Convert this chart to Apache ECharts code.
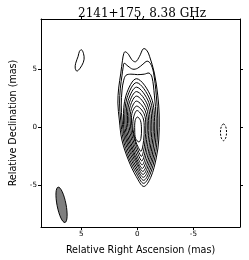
<!DOCTYPE html>
<html><head><meta charset="utf-8">
<script src="https://cdn.jsdelivr.net/npm/echarts@6/dist/echarts.min.js"></script>
<style>html,body{margin:0;padding:0;background:#fff}#c{width:249px;height:260px}</style>
</head><body><div id="c"></div>
<script>
// ---- data (mas) ----
const titleText = '2141+175, 8.38 GHz';
const xName = 'Relative Right Ascension (mas)';
const yName = 'Relative Declination (mas)';
const xTicks = [5, 0, -5];
const yTicks = [5, 0, -5];
const xRange = [-9.15, 8.58];
const yRange = [-8.61, 9.30];
// positive contours, outer to inner: [RA offset, Dec offset]
const contour1 = [[1.09,6.48],[0.79,6.27],[0.49,5.79],[0.15,5.62],[-0.20,6.09],[-0.54,6.74],[-0.84,6.61],[-1.09,6.09],[-1.52,4.64],[-1.82,2.75],[-1.95,1.03],[-1.91,-1.12],[-1.69,-2.66],[-1.20,-4.33],[-0.58,-5.12],[0.09,-4.27],[0.80,-2.83],[1.37,-1.12],[1.60,0.60],[1.73,2.06],[1.66,3.35],[1.47,4.64],[1.32,5.75],[1.21,6.31]];
const contour2 = [[1.17,5.49],[0.83,5.24],[0.40,4.98],[-0.03,5.06],[-0.50,5.41],[-0.88,5.67],[-1.18,5.45],[-1.44,4.72],[-1.69,2.75],[-1.82,0.77],[-1.78,-0.94],[-1.58,-2.52],[-1.13,-4.09],[-0.56,-4.85],[0.06,-4.03],[0.74,-2.67],[1.26,-1.03],[1.48,0.60],[1.58,2.06],[1.51,3.35],[1.36,4.46],[1.26,5.15]];
const contour3 = [[1.00,4.46],[0.57,4.55],[-0.03,4.51],[-0.62,4.55],[-1.05,4.64],[-1.31,4.29],[-1.52,2.75],[-1.68,0.77],[-1.65,-0.94],[-1.47,-2.38],[-1.06,-3.88],[-0.56,-4.59],[0.03,-3.81],[0.66,-2.52],[1.15,-0.96],[1.36,0.60],[1.43,1.89],[1.36,3.18],[1.21,4.03]];
const contour4 = [[0.06,4.16],[-1.23,2.57],[-1.55,0.17],[-1.36,-2.24],[-0.99,-3.66],[-0.54,-4.33],[0.01,-3.60],[0.59,-2.36],[1.05,-0.88],[1.24,0.60],[1.00,2.74]];
const contour5 = [[0.06,3.82],[-1.12,2.36],[-1.42,0.17],[-1.25,-2.10],[-0.92,-3.44],[-0.51,-4.08],[-0.02,-3.37],[0.52,-2.21],[0.95,-0.81],[1.12,0.60],[0.91,2.53]];
const contour6 = [[0.06,3.43],[-1.02,2.13],[-1.29,0.17],[-1.14,-1.97],[-0.85,-3.22],[-0.49,-3.82],[-0.03,-3.16],[0.45,-2.05],[0.85,-0.73],[1.00,0.60],[0.81,2.30]];
const contour7 = [[0.06,3.05],[-0.91,1.90],[-1.15,0.17],[-1.03,-1.83],[-0.77,-3.00],[-0.45,-3.56],[-0.04,-2.94],[0.39,-1.90],[0.74,-0.65],[0.88,0.60],[0.72,2.07]];
const contour8 = [[0.06,2.66],[-0.80,1.67],[-1.02,0.17],[-0.91,-1.67],[-0.69,-2.75],[-0.43,-3.26],[-0.06,-2.68],[0.32,-1.72],[0.63,-0.56],[0.76,0.60],[0.62,1.84]];
const contour9 = [[0.06,2.23],[-0.70,1.41],[-0.89,0.17],[-0.79,-1.49],[-0.62,-2.46],[-0.40,-2.92],[-0.09,-2.39],[0.26,-1.51],[0.53,-0.45],[0.64,0.60],[0.52,1.58]];
const contour10 = [[0.04,1.80],[-0.60,1.15],[-0.76,0.17],[-0.68,-1.28],[-0.54,-2.13],[-0.37,-2.53],[-0.09,-2.06],[0.20,-1.28],[0.43,-0.34],[0.52,0.60],[0.43,1.32]];
const contour11 = [[0.02,1.42],[-0.50,0.82],[-0.62,-0.09],[-0.56,-1.17],[-0.46,-1.80],[-0.32,-2.10],[-0.10,-1.78],[0.14,-1.23],[0.32,-0.57],[0.40,0.09],[0.32,0.88]];
const contour12 = [[-0.01,0.86],[-0.28,0.56],[-0.37,-0.17],[-0.32,-0.99],[-0.15,-1.29],[0.15,-0.99],[0.23,-0.26],[0.19,0.56]];
const blobContour = [[4.97,6.65],[4.80,6.35],[4.74,5.84],[4.93,5.32],[5.36,4.81],[5.53,5.06],[5.49,5.49],[5.27,6.09],[5.15,6.52]];
const negContour = [[-7.68,0.26],[-7.87,0.05],[-7.95,-0.46],[-7.87,-0.96],[-7.68,-1.18],[-7.49,-0.96],[-7.41,-0.46],[-7.49,0.05]];
// restoring beam: [RA, Dec, major (mas), minor (mas), PA (deg)]
const beam = [6.75, -6.70, 3.1, 0.8, 11];

const positive = [contour1, contour2, contour3, contour4, contour5, contour6, contour7, contour8, contour9, contour10, contour11, contour12, blobContour];

function contourSeries(pts, dashed) {
  return {
    type: 'custom', coordinateSystem: 'cartesian2d', silent: true, clip: true,
    data: pts,
    renderItem: function (params, api) {
      if (params.dataIndex !== 0) return null;
      return {
        type: 'polygon',
        shape: { points: pts.map(p => api.coord(p)), smooth: 0.35 },
        style: { fill: 'none', stroke: '#000', lineWidth: 1, lineDash: dashed ? [2, 1.5] : null }
      };
    }
  };
}

const beamSeries = {
  type: 'custom', coordinateSystem: 'cartesian2d', silent: true,
  data: [beam],
  renderItem: function (params, api) {
    const c = api.coord([api.value(0), api.value(1)]);
    const rx = api.size([api.value(3) / 2, 0])[0];
    const ry = api.size([0, api.value(2) / 2])[1];
    return {
      type: 'ellipse',
      shape: { cx: c[0], cy: c[1], rx: rx, ry: ry },
      rotation: api.value(4) * Math.PI / 180,
      originX: c[0], originY: c[1],
      style: { fill: '#7f7f7f', stroke: '#000', lineWidth: 0.9 }
    };
  }
};

const lbl = { fontFamily: 'DejaVu Sans', fontSize: 7.2, color: '#000' };
function xAx(pos, showLabel) {
  return {
    type: 'value', position: pos, inverse: true, min: xRange[0], max: xRange[1],
    name: showLabel ? xName : '', nameLocation: 'middle', nameGap: 18,
    nameTextStyle: { fontFamily: 'DejaVu Sans', fontSize: 9.6, color: '#000', verticalAlign: 'top' },
    axisLine: { show: true, onZero: false, lineStyle: { color: '#000', width: 1 } },
    axisTick: { show: true, inside: false, length: 3, customValues: xTicks, lineStyle: { color: '#000', width: 1 } },
    axisLabel: Object.assign({ show: showLabel, margin: 4, customValues: xTicks }, lbl),
    splitLine: { show: false }
  };
}
function yAx(pos, showLabel) {
  return {
    type: 'value', position: pos, min: yRange[0], max: yRange[1],
    name: showLabel ? yName : '', nameLocation: 'middle', nameGap: 23,
    nameTextStyle: { fontFamily: 'DejaVu Sans', fontSize: 9.6, color: '#000' },
    axisLine: { show: true, onZero: false, lineStyle: { color: '#000', width: 1 } },
    axisTick: { show: true, inside: false, length: 3, customValues: yTicks, lineStyle: { color: '#000', width: 1 } },
    axisLabel: Object.assign({ show: showLabel, margin: 4, customValues: yTicks }, lbl),
    splitLine: { show: false }
  };
}

const chart = echarts.init(document.getElementById('c'), null, { renderer: 'canvas' });
chart.setOption({
  animation: false,
  backgroundColor: '#fff',
  title: { text: titleText, left: 73, top: 3,
    textStyle: { fontFamily: 'DejaVu Serif', fontSize: 12, fontWeight: 'normal', color: '#000' } },
  grid: { left: 32, right: 9, top: 19, bottom: 32.7, containLabel: false },
  xAxis: [xAx('bottom', true), xAx('top', false)],
  yAxis: [yAx('left', true), yAx('right', false)],
  series: positive.map(p => contourSeries(p, false))
    .concat([contourSeries(negContour, true), beamSeries])
});
</script></body></html>
